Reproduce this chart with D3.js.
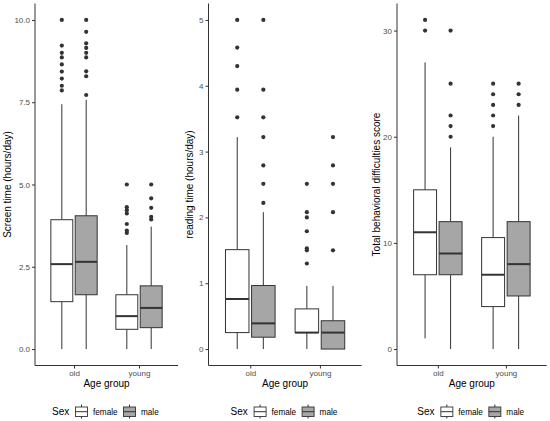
<!DOCTYPE html>
<html><head><meta charset="utf-8">
<script src="https://cdn.jsdelivr.net/npm/d3@7"></script>
<style>body{margin:0;background:#fff}text{font-family:"Liberation Sans",Arial,sans-serif}</style>
</head><body><svg id="c" width="550" height="421"></svg>
<script>
const ageGroups = ["old", "young"];
const sexes = ["female", "male"];
const sexFill = ["#ffffff", "#a6a6a6"];

// [age, sex, lowerWhisker, q1, median, q3, upperWhisker]
const screenBoxes = [
  ["old","female",0,1.44,2.58,3.93,7.44],
  ["old","male",0,1.65,2.65,4.05,7.57],
  ["young","female",0,0.6,1.0,1.65,3.16],
  ["young","male",0,0.65,1.25,1.92,3.72]
];
const screenOutliers = [
  ["old","female",[10.0,9.22,9.0,8.86,8.65,8.43,8.22,8.0,7.86]],
  ["old","male",[10.0,9.64,9.29,9.15,9.0,8.86,8.44,8.29,7.72]],
  ["young","female",[5.0,4.31,4.22,4.12,3.8,3.6,3.53]],
  ["young","male",[5.0,4.58,4.29,4.02,3.94]]
];
const screenTicks = [0, 2.5, 5, 7.5, 10];

const readingBoxes = [
  ["old","female",0,0.25,0.76,1.51,3.22],
  ["old","male",0,0.18,0.39,0.965,2.08],
  ["young","female",0,0.25,0.25,0.61,0.96],
  ["young","male",0,0,0.25,0.43,0.96]
];
const readingOutliers = [
  ["old","female",[5.0,4.58,4.3,3.94,3.52]],
  ["old","male",[5.0,3.94,3.52,3.22,2.79,2.51,2.22]],
  ["young","female",[2.51,2.08,2.0,1.79,1.53,1.5,1.3]],
  ["young","male",[3.22,2.79,2.51,2.08,1.5]]
];
const readingTicks = [0, 1, 2, 3, 4, 5];

const behavBoxes = [
  ["old","female",1,7,11,15,27],
  ["old","male",0,7,9,12,19],
  ["young","female",0,4,7,10.5,20],
  ["young","male",0,5,8,12,22]
];
const behavOutliers = [
  ["old","female",[31,30]],
  ["old","male",[30,25,22,21,20]],
  ["young","female",[25,24,23,22,21]],
  ["young","male",[25,24,23]]
];
const behavTicks = [0, 10, 20, 30];

const panels = [
  {title:"Screen time (hours/day)", boxes:screenBoxes, outs:screenOutliers, ticks:screenTicks, fmt:d3.format(".1f"), domain:[0,10], x0:35, x1:178, ty:7.5},
  {title:"reading time (hours/day)", boxes:readingBoxes, outs:readingOutliers, ticks:readingTicks, fmt:d3.format("d"), domain:[0,5], x0:208.5, x1:361.7, ty:189},
  {title:"Total behavioral difficulties score", boxes:behavBoxes, outs:behavOutliers, ticks:behavTicks, fmt:d3.format("d"), domain:[0,31], x0:397, x1:546.7, ty:376}
];

const svg = d3.select("#c");
const yTop = 3.5, yBot = 365.5;
const ink = "#333333";

panels.forEach(p => {
  const span = p.domain[1]-p.domain[0];
  const y = d3.scaleLinear().domain([p.domain[0]-0.05*span, p.domain[1]+0.05*span]).range([yBot, yTop]);
  const x = d3.scalePoint().domain(ageGroups).range([p.x0, p.x1]).padding(0.6);
  const unit = x.step();
  const bw = unit*0.3375, off = unit*0.1875;
  const cx = (age, sex) => x(age) + (sexes.indexOf(sex) === 0 ? -off : off);
  const g = svg.append("g");

  p.boxes.forEach(b => {
    const c = cx(b[0], b[1]);
    g.append("line").attr("x1",c).attr("x2",c).attr("y1",y(b[2])).attr("y2",y(b[3])).attr("stroke",ink).attr("stroke-width",1);
    g.append("line").attr("x1",c).attr("x2",c).attr("y1",y(b[5])).attr("y2",y(b[6])).attr("stroke",ink).attr("stroke-width",1);
    g.append("rect").attr("x",c-bw/2).attr("width",bw).attr("y",y(b[5])).attr("height",y(b[3])-y(b[5]))
      .attr("fill",sexFill[sexes.indexOf(b[1])]).attr("stroke",ink).attr("stroke-width",1);
    g.append("line").attr("x1",c-bw/2).attr("x2",c+bw/2).attr("y1",y(b[4])).attr("y2",y(b[4])).attr("stroke",ink).attr("stroke-width",2);
  });
  p.outs.forEach(o => {
    const c = cx(o[0], o[1]);
    o[2].forEach(v => g.append("circle").attr("cx",c).attr("cy",y(v)).attr("r",2.1).attr("fill",ink));
  });

  const ya = g.append("g").attr("transform",`translate(${p.x0},0)`)
    .call(d3.axisLeft(y).tickValues(p.ticks).tickFormat(p.fmt).tickSize(3).tickPadding(2));
  ya.select(".domain").attr("d",`M0,${yTop}V${yBot}`).attr("stroke","#333").attr("stroke-width",1);
  ya.selectAll(".tick line").attr("stroke","#333");
  ya.selectAll(".tick text").attr("fill","#4d4d4d").style("font-size","8px");
  const xa = g.append("g").attr("transform",`translate(0,${yBot})`)
    .call(d3.axisBottom(x).tickSize(3).tickPadding(2));
  xa.select(".domain").attr("d",`M${p.x0},0H${p.x1}`).attr("stroke","#333").attr("stroke-width",1);
  xa.selectAll(".tick line").attr("stroke","#333");
  xa.selectAll(".tick text").attr("fill","#4d4d4d").style("font-size","8px");

  g.append("text").attr("transform",`translate(${p.ty},${(yTop+yBot)/2}) rotate(-90)`).attr("text-anchor","middle")
    .attr("dominant-baseline","central").style("font-size","10px").attr("fill","#000").text(p.title);
  const mid = (p.x0+p.x1)/2;
  g.append("text").attr("x",mid).attr("y",387).attr("text-anchor","middle").style("font-size","10px").text("Age group");

  const lg = g.append("g").attr("transform",`translate(${mid-54.5},0)`);
  lg.append("text").attr("x",0).attr("y",415.3).style("font-size","10px").text("Sex");
  const keyX = [23.5, 71.5];
  sexes.forEach((s,i) => {
    const kx = keyX[i], kw = 12;
    lg.append("line").attr("x1",kx+kw/2).attr("x2",kx+kw/2).attr("y1",404.5).attr("y2",418.5).attr("stroke",ink);
    lg.append("rect").attr("x",kx).attr("y",407).attr("width",kw).attr("height",9.5).attr("fill",sexFill[i]).attr("stroke",ink).attr("stroke-width",0.9);
    lg.append("line").attr("x1",kx).attr("x2",kx+kw).attr("y1",411.7).attr("y2",411.7).attr("stroke",ink);
    lg.append("text").attr("x",kx+kw+5.5).attr("y",414.6).style("font-size","8.2px").attr("fill","#000").text(s);
  });
});
</script></body></html>
